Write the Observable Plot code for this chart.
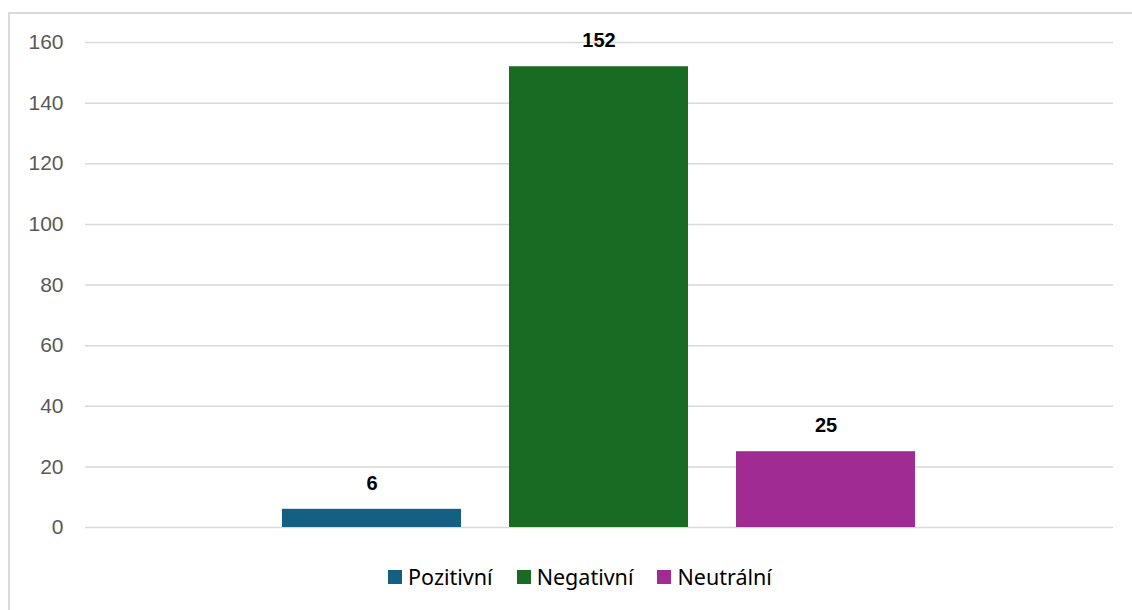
<!DOCTYPE html>
<html>
<head>
<meta charset="utf-8">
<script src="https://cdn.jsdelivr.net/npm/d3@7"></script>
<script src="https://cdn.jsdelivr.net/npm/@observablehq/plot@0.6"></script>
<style>
  html, body { margin: 0; padding: 0; background: #fff; }
  #page { position: relative; width: 1132px; height: 610px; overflow: hidden; }
  #frame { position: absolute; left: 8px; top: 12px; width: 1200px; height: 700px; border: 2px solid #d9d9d9; box-sizing: border-box; }
  #chart { position: absolute; left: 0; top: 0; }
  #legend { position: absolute; left: 0; top: 562px; width: 1132px; padding-left: 28px; box-sizing: border-box; display: flex; justify-content: center; font-family: "Noto Sans", sans-serif; font-size: 21.5px; color: #000; }
  .item { display: flex; align-items: center; margin: 0 12px; }
  .sw { width: 14px; height: 14px; margin-right: 6px; }
</style>
</head>
<body>
<div id="page">
  <div id="frame"></div>
  <div id="chart"></div>
  <div id="legend"></div>
</div>
<script>
const categories = ["Pozitivní", "Negativní", "Neutrální"];
const values = [6, 152, 25];
const colors = ["#156082", "#196B24", "#A02B93"];
const yTicks = [0, 20, 40, 60, 80, 100, 120, 140, 160];

const data = categories.map((c, i) => ({category: c, value: values[i]}));

const plot = Plot.plot({
  width: 1132,
  height: 547,
  marginLeft: 85,
  marginRight: 19,
  marginTop: 42,
  marginBottom: 20,
  style: {fontFamily: "'Liberation Sans', Arial, sans-serif", background: "transparent"},
  x: {domain: categories, paddingInner: 0.211, paddingOuter: 0.865, axis: null},
  y: {domain: [0, 160], ticks: yTicks, axis: null, label: null},
  color: {domain: categories, range: colors},
  marks: [
    Plot.gridY(yTicks, {stroke: "#d9d9d9", strokeOpacity: 1, strokeWidth: 1.5}),
    Plot.axisY(yTicks, {tickSize: 0, tickPadding: 22, fontSize: 21, fill: "#595959", textAnchor: "end", label: null}),
    Plot.barY(data, {x: "category", y: "value", fill: "category"}),
    Plot.text(data, {x: "category", y: "value", text: d => String(d.value), dy: -26, fontSize: 20, fontWeight: "bold", fill: "#000"})
  ]
});
document.getElementById("chart").appendChild(plot);

const legend = document.getElementById("legend");
categories.forEach((c, i) => {
  const item = document.createElement("div");
  item.className = "item";
  const sw = document.createElement("div");
  sw.className = "sw";
  sw.style.background = colors[i];
  const t = document.createElement("span");
  t.textContent = c;
  item.appendChild(sw);
  item.appendChild(t);
  legend.appendChild(item);
});
</script>
</body>
</html>
